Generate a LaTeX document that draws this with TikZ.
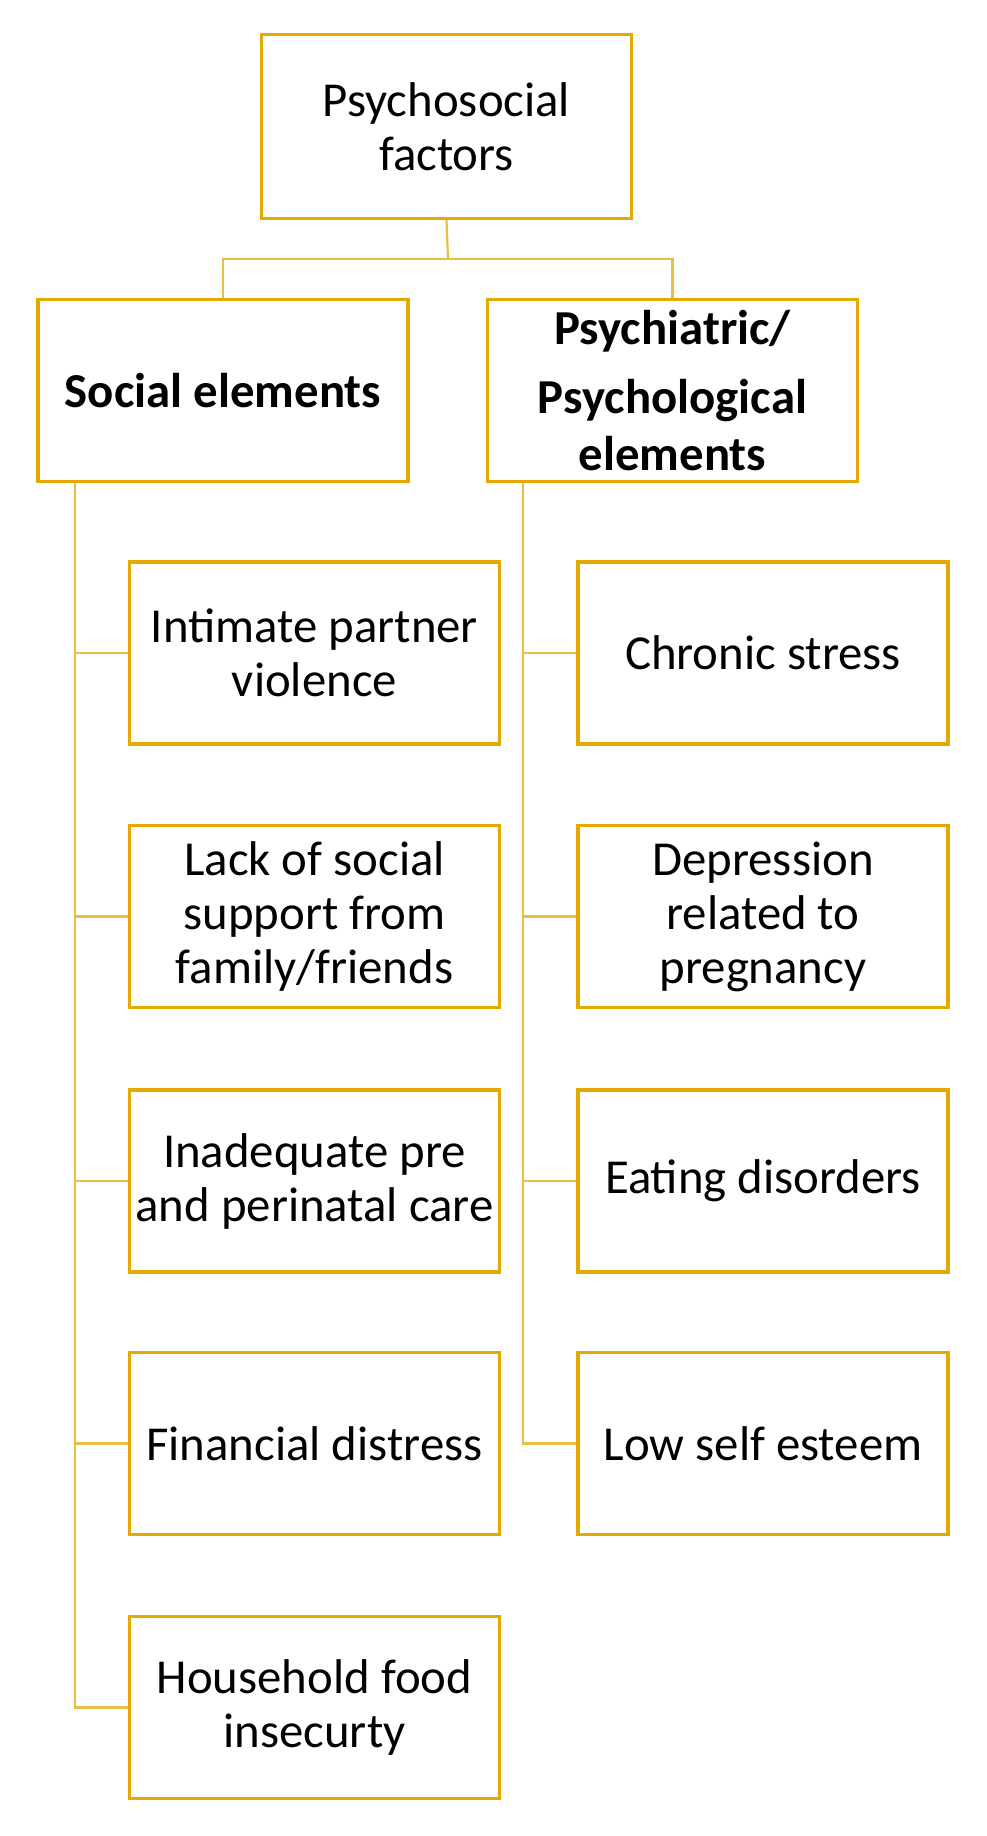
\documentclass[tikz,border=0pt]{standalone}
\usepackage{fontspec}
\setmainfont{Carlito}
\definecolor{boxgold}{RGB}{229,168,0}
\definecolor{linegold}{RGB}{232,190,70}
\tikzset{
  factorbox/.style={draw=boxgold, line width=1.6pt, fill=white, minimum width=185pt, minimum height=91pt, align=center, inner sep=0pt, font=\fontsize{24.4}{27}\selectfont},
  groupbox/.style={factorbox, font=\fontsize{24.4}{28.5}\selectfont\bfseries},
  link/.style={draw=linegold, line width=1.1pt},
}
\begin{document}
\begin{tikzpicture}[x=0.5pt,y=-0.5pt]
\useasboundingbox[fill=white] (0,0) rectangle (986,1836);
% top of the tree
\node[factorbox, minimum height=92pt] (top) at (446.5,126.5) {Psychosocial\\factors};
\node[groupbox] (social) at (223,390.5) {Social elements};
\node[groupbox] (psych) at (672.5,390.5) {Psychiatric/\\[6pt]Psychological\\elements};
\coordinate (fork) at (448,259);
\draw[link] (top.south) -- (fork);
\draw[link] (fork) -| (social.north);
\draw[link] (fork) -| (psych.north);
% social elements
\node[factorbox] (s1) at (314.5,653) {Intimate partner\\violence};
\node[factorbox] (s2) at (314.5,916.5) {Lack of social\\support from\\family/friends};
\node[factorbox] (s3) at (314.5,1181) {Inadequate pre\\and perinatal care};
\node[factorbox] (s4) at (314.5,1443.5) {Financial distress};
\node[factorbox] (s5) at (314.5,1707.5) {Household food\\insecurty};
\coordinate (sspine) at (75,483);
\foreach \i in {1,...,5}
  \draw[link] (sspine) |- (s\i.west);
% psychiatric elements
\node[factorbox] (p1) at (763,653) {Chronic stress};
\node[factorbox] (p2) at (763,916.5) {Depression\\related to\\pregnancy};
\node[factorbox] (p3) at (763,1181) {Eating disorders};
\node[factorbox] (p4) at (763,1443.5) {Low self esteem};
\coordinate (pspine) at (523,483);
\foreach \i in {1,...,4}
  \draw[link] (pspine) |- (p\i.west);
\end{tikzpicture}
\end{document}
